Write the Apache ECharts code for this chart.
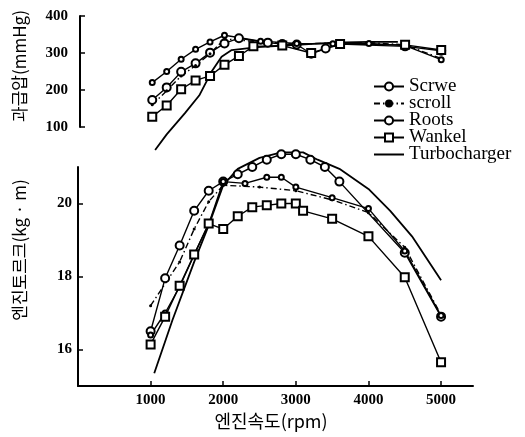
<!DOCTYPE html>
<html>
<head>
<meta charset="utf-8">
<script src="https://cdn.jsdelivr.net/npm/echarts@6/dist/echarts.min.js"></script>
<style>
html, body { margin: 0; padding: 0; background: #fff; }
#chart { width: 525px; height: 437px; }
</style>
</head>
<body>
<div id="chart"></div>
<script>
// tick labels
const rpmTicks = [1000, 2000, 3000, 4000, 5000];
const boostTicks = [100, 200, 300, 400];
const torqueTicks = [16, 18, 20];
const seriesNames = ['Scrwe', 'scroll', 'Roots', 'Wankel', 'Turbocharger'];

// boost pressure (mmHg), upper panel
const boostScrweRpm = [1000, 1200, 1400, 1600, 1800, 2000, 2200, 2600, 2800, 3000, 3200, 3400, 3600, 4500, 5000];
const boostScrwe = [173, 207, 249, 272, 301, 326, 340, 328, 324, 323, 298, 312, 324, 318, 306];
const boostScrollRpm = [1000, 1200, 1400, 1600, 1800, 2000, 2500, 3000, 3500, 4000, 4500, 5000];
const boostScroll = [160, 198, 238, 266, 298, 338, 330, 324, 327, 328, 322, 285];
const boostRootsRpm = [1000, 1200, 1400, 1600, 1800, 2000, 2500, 3000, 3500, 4000, 4500, 5000];
const boostRoots = [220, 250, 283, 310, 330, 348, 332, 326, 325, 326, 320, 282];
const boostWankelRpm = [1000, 1200, 1400, 1600, 1800, 2000, 2200, 2400, 2800, 3200, 3600, 4500, 5000];
const boostWankel = [128, 158, 202, 226, 238, 268, 292, 318, 320, 300, 324, 322, 308];
const boostTurboRpm = [1040, 1200, 1450, 1650, 1820, 1960, 2100, 2460, 3000, 3500, 4000, 4400];
const boostTurbo = [38, 80, 137, 185, 249, 290, 308, 316, 322, 328, 330, 330];

// engine torque (kg·m), lower panel
const torqueScrweRpm = [1000, 1200, 1400, 1600, 1800, 2000, 2200, 2400, 2600, 2800, 3000, 3200, 3400, 3600, 4500, 5000];
const torqueScrwe = [16.5, 17.95, 18.85, 19.8, 20.35, 20.6, 20.8, 21.0, 21.2, 21.35, 21.35, 21.2, 21.0, 20.6, 18.65, 16.9];
const torqueScrollRpm = [1000, 1400, 1600, 1800, 2000, 2500, 3000, 3500, 4000, 4500, 5000];
const torqueScroll = [17.2, 18.4, 19.3, 20.05, 20.5, 20.45, 20.35, 20.1, 19.75, 18.8, 16.95];
const torqueRootsRpm = [1000, 1200, 1400, 1600, 1800, 2000, 2300, 2600, 2800, 3000, 3500, 4000, 4500, 5000];
const torqueRoots = [16.4, 17.0, 17.72, 18.6, 19.44, 20.6, 20.55, 20.72, 20.72, 20.45, 20.16, 19.86, 18.7, 16.93];
const torqueWankelRpm = [1000, 1200, 1400, 1600, 1800, 2000, 2200, 2400, 2600, 2800, 3000, 3100, 3500, 4000, 4500, 5000];
const torqueWankel = [16.14, 16.9, 17.75, 18.6, 19.45, 19.3, 19.65, 19.9, 19.95, 20.0, 20.0, 19.8, 19.58, 19.1, 17.98, 15.65];
const torqueTurboRpm = [1050, 1300, 1600, 1800, 2000, 2200, 2500, 2800, 3100, 3300, 3600, 4000, 4300, 4600, 5000];
const torqueTurbo = [15.35, 16.8, 18.4, 19.4, 20.5, 20.95, 21.25, 21.4, 21.4, 21.2, 20.95, 20.4, 19.8, 19.1, 17.9];

const serif = 'Liberation Serif';
const hangul = 'Noto Sans CJK KR';

function pairs(xs, ys) {
    return xs.map(function (x, i) { return [x, ys[i]]; });
}

var styles = {
    Scrwe: { symbol: 'emptyCircle', symbolSize: 8, lineType: 'solid' },
    scroll: { symbol: 'circle', symbolSize: 3, lineType: [6, 3, 1.5, 3] },
    Roots: { symbol: 'emptyCircle', symbolSize: 5, lineType: 'solid' },
    Wankel: { symbol: 'emptyRect', symbolSize: 8, lineType: 'solid' },
    Turbocharger: { symbol: 'none', symbolSize: 0, lineType: 'solid' }
};

function makeSeries(name, idx, xs, ys) {
    var s = styles[name];
    return {
        name: name,
        type: 'line',
        xAxisIndex: idx,
        yAxisIndex: idx,
        data: pairs(xs, ys),
        clip: false,
        symbol: s.symbol,
        symbolSize: s.symbolSize,
        showSymbol: s.symbol !== 'none',
        itemStyle: { color: '#000', borderWidth: 1.4 },
        lineStyle: { color: '#000', width: name === 'Turbocharger' ? 1.8 : 1.4, type: s.lineType },
        emphasis: { disabled: true },
        animation: false
    };
}

var legendData = seriesNames.map(function (n) {
    if (n === 'Turbocharger') {
        return { name: n, icon: 'path://M0,0 L30,0 L30,2 L0,2 Z' };
    }
    return { name: n };
});

var axisLabelStyle = { color: '#000', fontFamily: serif, fontSize: 15, fontWeight: 'bold' };
var axisLineStyle = { show: true, lineStyle: { color: '#000', width: 2 } };
var tickStyle = { show: true, inside: true, length: 5, lineStyle: { color: '#000', width: 1.5 } };

var option = {
    backgroundColor: '#fff',
    animation: false,
    grid: [
        { left: 80, top: 16, width: 393, height: 111 },
        { left: 78, top: 167, width: 395, height: 219 }
    ],
    xAxis: [
        { type: 'value', gridIndex: 0, min: 0, max: 5440, show: false },
        {
            type: 'value', gridIndex: 1, min: 0, max: 5440,
            axisLine: axisLineStyle,
            axisTick: Object.assign({ customValues: rpmTicks }, tickStyle),
            axisLabel: Object.assign({ customValues: rpmTicks, margin: 7, formatter: function (v) { return String(v); } }, axisLabelStyle),
            splitLine: { show: false }
        }
    ],
    yAxis: [
        {
            type: 'value', gridIndex: 0, min: 100, max: 400,
            axisLine: axisLineStyle,
            axisTick: Object.assign({ customValues: boostTicks }, tickStyle),
            axisLabel: Object.assign({ customValues: boostTicks, margin: 12 }, axisLabelStyle),
            splitLine: { show: false }
        },
        {
            type: 'value', gridIndex: 1, min: 15, max: 21,
            axisLine: axisLineStyle,
            axisTick: Object.assign({ customValues: torqueTicks }, tickStyle),
            axisLabel: Object.assign({ customValues: torqueTicks, margin: 6 }, axisLabelStyle),
            splitLine: { show: false }
        }
    ],
    legend: {
        data: legendData,
        orient: 'vertical',
        left: 368,
        top: 72,
        itemWidth: 30,
        itemHeight: 10,
        itemGap: -2,
        symbolKeepAspect: true,
        textStyle: { color: '#000', fontFamily: serif, fontSize: 19, lineHeight: 17 }
    },
    graphic: [
        {
            type: 'text', x: 20, y: 66, rotation: Math.PI / 2,
            style: { text: '과급압(mmHg)', fill: '#000', font: '17px "' + hangul + '"', textAlign: 'center', textVerticalAlign: 'middle' }
        },
        {
            type: 'text', x: 20, y: 250, rotation: Math.PI / 2,
            style: { text: '엔진토르크(kg · m)', fill: '#000', font: '17px "' + hangul + '"', textAlign: 'center', textVerticalAlign: 'middle' }
        },
        {
            type: 'text', x: 271, y: 421,
            style: { text: '엔진속도(rpm)', fill: '#000', font: '18px "' + hangul + '"', textAlign: 'center', textVerticalAlign: 'middle' }
        }
    ],
    series: [
        makeSeries('Scrwe', 0, boostScrweRpm, boostScrwe),
        makeSeries('scroll', 0, boostScrollRpm, boostScroll),
        makeSeries('Roots', 0, boostRootsRpm, boostRoots),
        makeSeries('Wankel', 0, boostWankelRpm, boostWankel),
        makeSeries('Turbocharger', 0, boostTurboRpm, boostTurbo),
        makeSeries('Scrwe', 1, torqueScrweRpm, torqueScrwe),
        makeSeries('scroll', 1, torqueScrollRpm, torqueScroll),
        makeSeries('Roots', 1, torqueRootsRpm, torqueRoots),
        makeSeries('Wankel', 1, torqueWankelRpm, torqueWankel),
        makeSeries('Turbocharger', 1, torqueTurboRpm, torqueTurbo)
    ]
};

var chart = echarts.init(document.getElementById('chart'), null, { renderer: 'canvas' });
chart.setOption(option);
</script>
</body>
</html>
